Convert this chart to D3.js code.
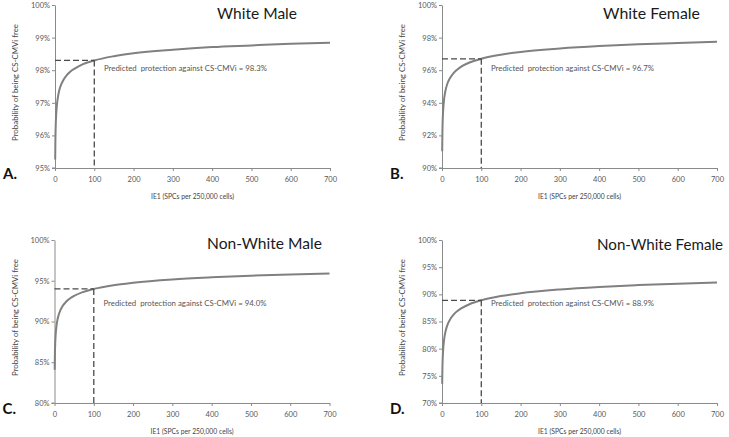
<!DOCTYPE html>
<html>
<head>
<meta charset="utf-8">
<script src="https://cdn.jsdelivr.net/npm/d3@7"></script>
<style>
  html, body { margin: 0; padding: 0; background: #fff; }
  svg { display: block; }
  text { font-family: Lato, "Open Sans", sans-serif; }
</style>
</head>
<body>
<svg id="chart" width="729" height="437"></svg>
<script>
// ---- data ----
const ie1Values = [0.5, 1, 2, 3, 5, 7, 10, 15, 20, 30, 40, 50, 70, 100, 150, 200, 300, 400, 500, 600, 700];
const whiteMale = [95.26, 95.84, 96.36, 96.64, 96.95, 97.14, 97.34, 97.54, 97.67, 97.85, 97.97, 98.05, 98.18, 98.30, 98.43, 98.52, 98.63, 98.71, 98.76, 98.81, 98.84];
const whiteFemale = [91.03, 92.11, 93.06, 93.56, 94.15, 94.51, 94.87, 95.26, 95.50, 95.84, 96.06, 96.23, 96.47, 96.70, 96.95, 97.12, 97.33, 97.48, 97.59, 97.67, 97.74];
const nonWhiteMale = [84.08, 85.89, 87.52, 88.41, 89.44, 90.08, 90.71, 91.39, 91.85, 92.45, 92.85, 93.15, 93.58, 94.00, 94.46, 94.76, 95.16, 95.42, 95.62, 95.78, 95.90];
const nonWhiteFemale = [73.52, 76.13, 78.57, 79.90, 81.48, 82.47, 83.49, 84.58, 85.30, 86.30, 86.97, 87.46, 88.18, 88.90, 89.68, 90.20, 90.89, 91.36, 91.70, 91.97, 92.20];
const panelTitles = ["White Male", "White Female", "Non-White Male", "Non-White Female"];
const panelLetters = ["A.", "B.", "C.", "D."];
const predictedProtection = [98.3, 96.7, 94.0, 88.9];
const referenceIE1 = 100;
const yDomains = [[95, 100], [90, 100], [80, 100], [70, 100]];
const yTickValues = [
  [95, 96, 97, 98, 99, 100],
  [90, 92, 94, 96, 98, 100],
  [80, 85, 90, 95, 100],
  [70, 75, 80, 85, 90, 95, 100]
];
const xTickValues = [0, 100, 200, 300, 400, 500, 600, 700];
const xAxisLabel = "IE1 (SPCs per 250,000 cells)";
const yAxisLabel = "Probability of being CS-CMVi free";
const seriesList = [whiteMale, whiteFemale, nonWhiteMale, nonWhiteFemale];

// ---- layout ----
const svg = d3.select("#chart");
const layout = [
  { left: 55, top: 5, titleY: 19, titleX: 217, titleW: 80, annY: 71 },
  { left: 442, top: 5, titleY: 19, titleX: 603, titleW: 97, annY: 71 },
  { left: 54.5, top: 240, titleY: 249, titleX: 207, titleW: 115, annY: 306 },
  { left: 442, top: 240, titleY: 250, titleX: 597, titleW: 126, annY: 306 }
];
const plotW = 275, plotH = 163;

layout.forEach((L, i) => {
  const g = svg.append("g");
  const x = d3.scaleLinear().domain([0, 700]).range([L.left, L.left + plotW]);
  const y = d3.scaleLinear().domain(yDomains[i]).range([L.top + plotH, L.top]);

  // axes
  const yAxis = g.append("g")
    .attr("transform", `translate(${L.left},0)`)
    .call(d3.axisLeft(y).tickValues(yTickValues[i]).tickFormat(d => d + "%").tickSize(3).tickSizeOuter(0).tickPadding(2));
  const xAxis = g.append("g")
    .attr("transform", `translate(0,${L.top + plotH})`)
    .call(d3.axisBottom(x).tickValues(xTickValues).tickSize(3).tickSizeOuter(0).tickPadding(6));
  [xAxis, yAxis].forEach(a => {
    a.select(".domain").attr("stroke", "#8a8a8a").attr("stroke-width", 1);
    a.selectAll(".tick line").attr("stroke", "#8a8a8a");
    a.selectAll(".tick text").attr("fill", "#595959").style("font-size", "7.5px").style("font-family", "Lato, sans-serif");
  });
  // extend x-axis slightly left of y axis (as in reference)
  g.append("line")
    .attr("x1", L.left - 3).attr("x2", L.left)
    .attr("y1", L.top + plotH).attr("y2", L.top + plotH)
    .attr("stroke", "#8a8a8a");

  // curve
  const pts = ie1Values.map((v, k) => [v, seriesList[i][k]]);
  g.append("path")
    .datum(pts)
    .attr("fill", "none")
    .attr("stroke", "#808080")
    .attr("stroke-width", 2)
    .attr("d", d3.line().x(d => x(d[0])).y(d => y(d[1])).curve(d3.curveMonotoneX));

  // dashed guides
  const pv = predictedProtection[i];
  g.append("path")
    .attr("fill", "none")
    .attr("stroke", "#4a4a4a")
    .attr("stroke-width", 1.3)
    .attr("stroke-dasharray", "6,3")
    .attr("d", `M${x(0)},${y(pv)}H${x(referenceIE1)}`);
  g.append("path")
    .attr("fill", "none")
    .attr("stroke", "#4a4a4a")
    .attr("stroke-width", 1.3)
    .attr("stroke-dasharray", "6,3")
    .attr("d", `M${x(referenceIE1)},${y(pv)}V${y(yDomains[i][0])}`);

  // annotation
  g.append("text")
    .attr("x", L.left + 49).attr("y", L.annY)
    .attr("fill", "#555")
    .style("font-size", "8px")
    .attr("textLength", 163).attr("lengthAdjust", "spacingAndGlyphs")
    .attr("xml:space", "preserve")
    .text(`Predicted  protection against CS-CMVi = ${pv.toFixed(1)}%`);

  // title
  g.append("text")
    .attr("x", L.titleX).attr("y", L.titleY)
    .attr("fill", "#1a1a1a")
    .style("font-size", "16px")
    .attr("textLength", L.titleW).attr("lengthAdjust", "spacingAndGlyphs")
    .text(panelTitles[i]);

  // panel letter
  g.append("text")
    .attr("x", L.left - 52).attr("y", L.top + plotH + 11)
    .attr("fill", "#111")
    .style("font-size", "15px").style("font-weight", "bold")
    .text(panelLetters[i]);

  // axis labels
  g.append("text")
    .attr("x", L.left + plotW / 2).attr("y", L.top + plotH + 31)
    .attr("text-anchor", "middle")
    .attr("fill", "#444")
    .style("font-size", "7.5px")
    .attr("textLength", 83).attr("lengthAdjust", "spacingAndGlyphs")
    .text(xAxisLabel);
  g.append("text")
    .attr("transform", `translate(${L.left - 37},${L.top + plotH / 2 - 4}) rotate(-90)`)
    .attr("text-anchor", "middle")
    .attr("fill", "#444")
    .style("font-size", "8px")
    .attr("textLength", 117).attr("lengthAdjust", "spacingAndGlyphs")
    .text(yAxisLabel);
});
</script>
</body>
</html>
